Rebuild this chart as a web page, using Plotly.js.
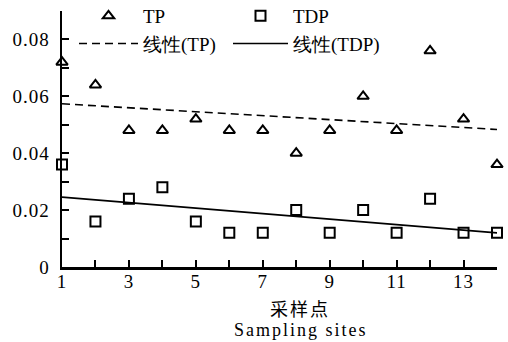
<!DOCTYPE html>
<html>
<head>
<meta charset="utf-8">
<script src="https://cdn.plot.ly/plotly-3.0.1.min.js"></script>
<style>
html,body{margin:0;padding:0;background:#fff;}
#chart{width:508px;height:342px;}
#chart .annotation-text{letter-spacing:2px;}
#chart .xtick text, #chart .ytick text{letter-spacing:1px;}
</style>
</head>
<body>
<div id="chart"></div>
<script>
// Sampling sites
const sites = [1,2,3,4,5,6,7,8,9,10,11,12,13,14];
// TP values
const tpValues = [0.072,0.064,0.048,0.048,0.052,0.048,0.048,0.040,0.048,0.060,0.048,0.076,0.052,0.036];
// TDP values
const tdpValues = [0.036,0.016,0.024,0.028,0.016,0.012,0.012,0.020,0.012,0.020,0.012,0.024,0.012,0.012];
// Tick labels
const xTickVals = [1,2,3,4,5,6,7,8,9,10,11,12,13,14];
const xTickText = ["1","","3","","5","","7","","9","","11","","13",""];
const yTickVals = [0,0.01,0.02,0.03,0.04,0.05,0.06,0.07,0.08,0.09];
const yTickText = ["0","","0.02","","0.04","","0.06","","0.08",""];
const seriesNames = ["TP","TDP","线性(TP)","线性(TDP)"];

// least-squares linear trend (Excel "线性" trendline)
function linFit(xs, ys){
  const n = xs.length;
  const mx = xs.reduce((a,b)=>a+b,0)/n;
  const my = ys.reduce((a,b)=>a+b,0)/n;
  let sxy=0, sxx=0;
  for(let i=0;i<n;i++){sxy+=(xs[i]-mx)*(ys[i]-my);sxx+=(xs[i]-mx)*(xs[i]-mx);}
  const b = sxy/sxx, a = my-b*mx;
  return xs.map(x=>a+b*x);
}

const FONT = "Liberation Serif";

const traces = [
  {x:sites, y:tpValues, name:seriesNames[0], type:'scatter', mode:'markers', legend:'legend', legendgroup:'a',
   marker:{symbol:'triangle-up-open', size:10, color:'#000', line:{width:2, color:'#000'}}, cliponaxis:false},
  {x:sites, y:tdpValues, name:seriesNames[1], type:'scatter', mode:'markers', legend:'legend2', legendgroup:'b',
   marker:{symbol:'square-open', size:10, color:'#000', line:{width:2, color:'#000'}}, cliponaxis:false},
  {x:sites, y:linFit(sites,tpValues), name:seriesNames[2], type:'scatter', mode:'lines', legend:'legend', legendgroup:'c',
   line:{color:'#000', width:1.6, dash:'8px,5px'}},
  {x:sites, y:linFit(sites,tdpValues), name:seriesNames[3], type:'scatter', mode:'lines', legend:'legend2', legendgroup:'d',
   line:{color:'#000', width:1.6}}
];

const legendBase = {orientation:'v', yanchor:'top', xanchor:'left', tracegroupgap:0,
  font:{family:FONT, size:19, color:'#000'}, bgcolor:'rgba(0,0,0,0)', borderwidth:0};

const layout = {
  width:508, height:342,
  margin:{l:62, r:11, t:11, b:75, pad:0, autoexpand:false},
  paper_bgcolor:'#fff', plot_bgcolor:'#fff',
  font:{family:FONT, size:18, color:'#000'},
  showlegend:true,
  legend:Object.assign({}, legendBase, {x:(74-62)/435, y:1 + 14/256, itemwidth:59}),
  legend2:Object.assign({}, legendBase, {x:(228-62)/435, y:1 + 14/256, itemwidth:55}),
  xaxis:{range:[1,14], tickvals:xTickVals, ticktext:xTickText, ticks:'inside', ticklen:7, tickwidth:2,
    tickcolor:'#000', showline:true, linewidth:2.5, linecolor:'#000', showgrid:false, zeroline:false,
    tickfont:{family:FONT, size:19}, ticklabelstandoff:-4},
  yaxis:{range:[0,0.09], tickvals:yTickVals, ticktext:yTickText, ticks:'inside', ticklen:7, tickwidth:2,
    tickcolor:'#000', showline:true, linewidth:2.5, linecolor:'#000', showgrid:false, zeroline:false,
    tickfont:{family:FONT, size:19}, ticklabelstandoff:6},
  annotations:[
    {text:'采样点', xref:'paper', yref:'paper', x:(300-62)/435, y:-(308-267)/256, xanchor:'center', yanchor:'middle',
     showarrow:false, font:{family:'Noto Sans CJK SC', size:18}},
    {text:'Sampling sites', xref:'paper', yref:'paper', x:(301-62)/435, y:-(330-267)/256, xanchor:'center', yanchor:'middle',
     showarrow:false, font:{family:FONT, size:18}}
  ]
};

Plotly.newPlot('chart', traces, layout, {staticPlot:true, displayModeBar:false});
</script>
</body>
</html>
